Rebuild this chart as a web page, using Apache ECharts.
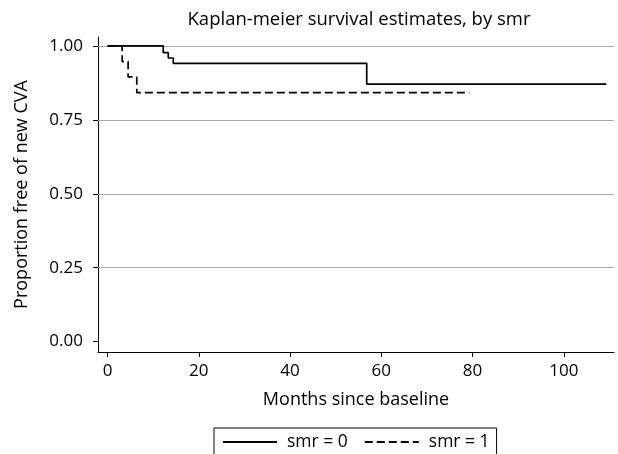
<!DOCTYPE html>
<html>
<head>
<meta charset="utf-8">
<script src="https://cdn.jsdelivr.net/npm/echarts@6/dist/echarts.min.js"></script>
<style>html,body{margin:0;padding:0;background:#fff;}#c{width:618px;height:454px;}</style>
</head>
<body>
<div id="c"></div>
<script>
const titleText = 'Kaplan-meier survival estimates, by smr';
const xTicks = [0, 20, 40, 60, 80, 100];
const yTicks = [0, 0.25, 0.5, 0.75, 1];
const gridYValues = [0.25, 0.5, 0.75, 1];
const smr0Months = [0, 12.2, 13.3, 14.4, 56.8, 109.3];
const smr0Surv   = [1, 0.977, 0.959, 0.941, 0.871, 0.871];
const smr1Months = [0, 3.2, 4.5, 6.4, 79.3];
const smr1Surv   = [1, 0.947, 0.895, 0.842, 0.842];

const FONT = 'Open Sans';
const chart = echarts.init(document.getElementById('c'), null, {renderer: 'canvas'});
const zip = (a, b) => a.map((v, i) => [v, b[i]]);

chart.setOption({
  animation: false,
  backgroundColor: '#fff',
  textStyle: {fontFamily: FONT, color: '#000'},
  title: {
    text: titleText, left: 354, top: 5, textAlign: 'center',
    textStyle: {fontFamily: FONT, fontSize: 18.5, fontWeight: 'normal', color: '#000'}
  },
  grid: {left: 98, right: 4, top: 37, bottom: 102, containLabel: false},
  legend: {
    left: 214, top: 428,
    data: ['smr = 0', 'smr = 1'],
    borderColor: '#000', borderWidth: 1, borderRadius: 0,
    padding: [5, 7, 10, 8],
    itemWidth: 54, itemHeight: 14, itemGap: 16,
    itemStyle: {color: 'transparent', borderWidth: 0, opacity: 0},
    textStyle: {fontFamily: FONT, fontSize: 17.5, color: '#000', padding: [0, 0, 0, 5]}
  },
  xAxis: {
    type: 'value', min: -2.1, max: 111,
    name: 'Months since baseline', nameLocation: 'middle', nameGap: 39,
    nameTextStyle: {fontFamily: FONT, fontSize: 18, color: '#000'},
    axisLine: {onZero: false, lineStyle: {color: '#000', width: 1}},
    axisTick: {show: true, length: 5, customValues: xTicks, lineStyle: {color: '#000'}},
    axisLabel: {customValues: xTicks, fontFamily: FONT, fontSize: 17, color: '#000', margin: 11},
    splitLine: {show: false}
  },
  yAxis: {
    type: 'value', min: -0.035, max: 1.03,
    name: 'Proportion free of new CVA', nameLocation: 'middle', nameGap: 67, nameRotate: 90,
    nameTextStyle: {fontFamily: FONT, fontSize: 18, color: '#000'},
    axisLine: {show: true, onZero: false, lineStyle: {color: '#000', width: 1}},
    axisTick: {show: true, length: 5, customValues: yTicks, lineStyle: {color: '#000'}},
    axisLabel: {customValues: yTicks, fontFamily: FONT, fontSize: 17, color: '#000', margin: 15,
      formatter: v => v.toFixed(2)},
    splitLine: {show: false}
  },
  series: [
    {
      name: 'smr = 0', type: 'line', step: 'end', symbol: 'none',
      data: zip(smr0Months, smr0Surv), z: 3,
      lineStyle: {color: '#000', width: 1.7, type: 'solid'},
      itemStyle: {color: '#000'},
      markLine: {
        silent: true, symbol: 'none', label: {show: false},
        lineStyle: {color: '#aaaaaa', width: 1, type: 'solid'},
        data: gridYValues.map(v => ({yAxis: v})), z: 1
      }
    },
    {
      name: 'smr = 1', type: 'line', step: 'end', symbol: 'none',
      data: zip(smr1Months, smr1Surv), z: 2,
      lineStyle: {color: '#000', width: 1.7, type: [8, 4]},
      itemStyle: {color: '#000'}
    }
  ]
});
</script>
</body>
</html>
